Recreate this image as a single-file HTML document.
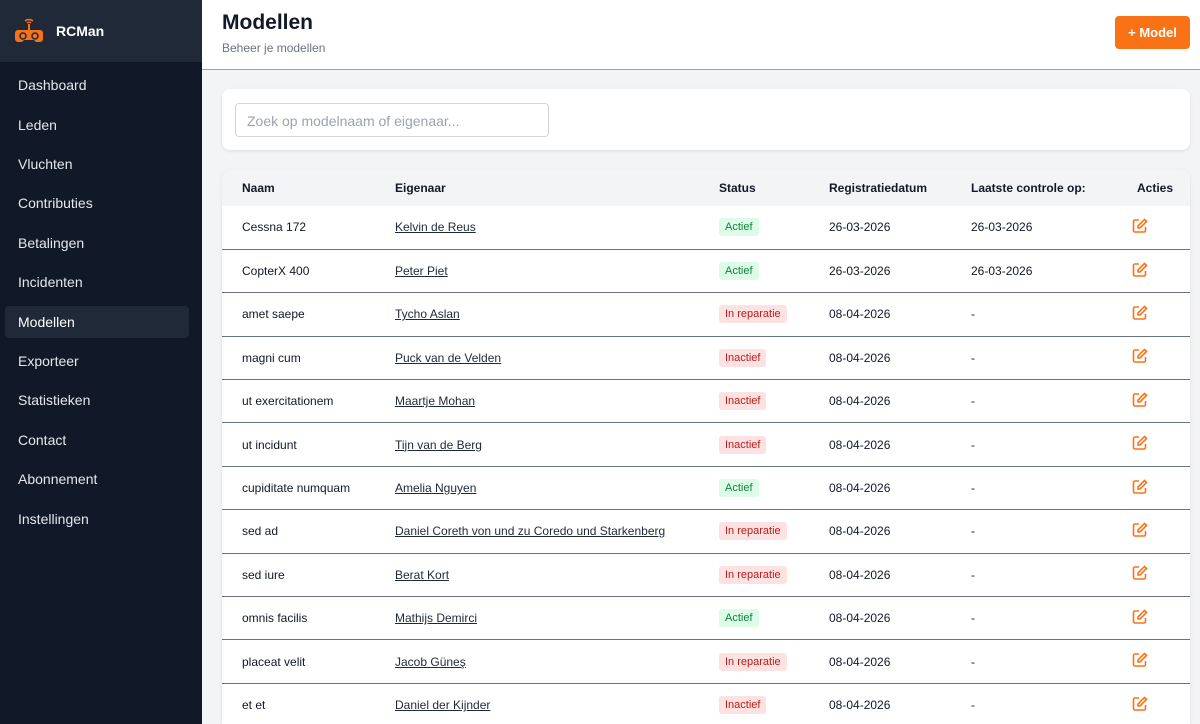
<!DOCTYPE html>
<html style="width:1200px;height:724px;overflow:hidden"><head><meta charset="utf-8"><style>
*{box-sizing:border-box;margin:0;padding:0}
body{width:1200px;height:724px;overflow:hidden;background:#f3f4f6;font-family:"Liberation Sans",Arial,sans-serif;position:relative}
.side{position:absolute;left:0;top:0;width:202px;height:724px;background:#111827}
.brand{height:62px;background:#1f2937;display:flex;align-items:center;padding-left:14px}
.brand b{color:#fff;font-size:14px;margin-left:12px}
.nav div{position:absolute;left:5px;width:184px;height:32px;line-height:32px;padding-left:13px;color:#e5e7eb;font-size:14px;border-radius:4px}
.nav .act{background:#1f2937;color:#fff}
.top{position:absolute;left:202px;top:0;right:0;height:70px;background:#fff;border-bottom:1px solid #9ca3af}
.top h1{position:absolute;left:20px;top:11px;font-size:21px;color:#111827}
.top p{position:absolute;left:20px;top:41px;font-size:12px;color:#6b7280}
.btn{position:absolute;right:10px;top:16px;width:75px;height:33px;background:#f97316;color:#fff;font-weight:bold;font-size:13px;border-radius:4px;text-align:center;line-height:33px}
.card{position:absolute;left:222px;width:968px;background:#fff;border-radius:8px;box-shadow:0 1px 3px rgba(0,0,0,.1)}
.search{position:absolute;left:13px;top:14px;width:314px;height:34px;border:1px solid #d1d5db;border-radius:4px;font-size:14px;color:#9ca3af;padding:9px 11px}
table{border-collapse:collapse;width:968px;table-layout:fixed;font-size:12px;color:#111827}
th{background:#f3f4f6;height:36px;text-align:left;font-weight:bold}
td{height:43.4px;border-top:1px solid #6b7280;white-space:nowrap}
td.f{border-top:none}
a{color:#1f2937;text-decoration:underline}
.b{display:inline-block;padding:3px 6px;border-radius:3px;font-size:11px}
.g{background:#dcfce7;color:#15803d}.r{background:#fee2e2;color:#b91c1c}
</style></head><body>
<div class="side">
<div class="brand"><svg width="30" height="30" viewBox="0 0 30 30"><path d="M11 5a6 6 0 0 1 8 0M13 7a3 3 0 0 1 4 0" stroke="#f97316" stroke-width="1.5" fill="none"/><line x1="15" y1="8" x2="15" y2="14" stroke="#f97316" stroke-width="2"/><path d="M4 14h22a3 3 0 0 1 3 3v6a3 3 0 0 1-3 3h-4l-2-2h-10l-2 2h-4a3 3 0 0 1-3-3v-6a3 3 0 0 1 3-3z" fill="#f97316"/><circle cx="9" cy="20" r="3" fill="none" stroke="#1f2937" stroke-width="1.5"/><circle cx="21" cy="20" r="3" fill="none" stroke="#1f2937" stroke-width="1.5"/></svg><b>RCMan</b></div>
<div class="nav">
<div style="top:69px">Dashboard</div><div style="top:109px">Leden</div><div style="top:148px">Vluchten</div><div style="top:187px">Contributies</div><div style="top:227px">Betalingen</div><div style="top:266px">Incidenten</div><div class="act" style="top:306px">Modellen</div><div style="top:345px">Exporteer</div><div style="top:384px">Statistieken</div><div style="top:424px">Contact</div><div style="top:463px">Abonnement</div><div style="top:503px">Instellingen</div>
</div></div>
<div class="top"><h1>Modellen</h1><p>Beheer je modellen</p><div class="btn">+ Model</div></div>
<div class="card" style="top:89px;height:61px"><div class="search">Zoek op modelnaam of eigenaar...</div></div>
<div class="card" style="top:170px;height:554px;overflow:hidden;border-radius:8px 8px 0 0">
<table id="t2"></table>
<script>
var d=[["Cessna 172","Kelvin de Reus","g","Actief","26-03-2026","26-03-2026"],["CopterX 400","Peter Piet","g","Actief","26-03-2026","26-03-2026"],["amet saepe","Tycho Aslan","r","In reparatie","08-04-2026","-"],["magni cum","Puck van de Velden","r","Inactief","08-04-2026","-"],["ut exercitationem","Maartje Mohan","r","Inactief","08-04-2026","-"],["ut incidunt","Tijn van de Berg","r","Inactief","08-04-2026","-"],["cupiditate numquam","Amelia Nguyen","g","Actief","08-04-2026","-"],["sed ad","Daniel Coreth von und zu Coredo und Starkenberg","r","In reparatie","08-04-2026","-"],["sed iure","Berat Kort","r","In reparatie","08-04-2026","-"],["omnis facilis","Mathijs Demirci","g","Actief","08-04-2026","-"],["placeat velit","Jacob Güneş","r","In reparatie","08-04-2026","-"],["et et","Daniel der Kijnder","r","Inactief","08-04-2026","-"]];
var ic='<svg width="16" height="16" viewBox="0 0 16 16" fill="none" stroke="#f97316" stroke-width="1.6"><path d="M7 2H3a1.5 1.5 0 0 0-1.5 1.5v9A1.5 1.5 0 0 0 3 14h9a1.5 1.5 0 0 0 1.5-1.5V9"/><path d="M12.5 1.5l2 2L8 10H6V8z"/></svg>';
var h='<colgroup><col style="width:173px"><col style="width:324px"><col style="width:110px"><col style="width:142px"><col style="width:150px"><col style="width:69px"></colgroup>';
h+='<tr><th style="padding-left:20px">Naam</th><th>Eigenaar</th><th>Status</th><th>Registratiedatum</th><th>Laatste controle op:</th><th style="padding-left:16px">Acties</th></tr>';
d.forEach(function(r,i){var f=i==0?' class="f"':'';h+='<tr><td'+f+' style="padding-left:20px">'+r[0]+'</td><td'+f+'><a>'+r[1]+'</a></td><td'+f+'><span class="b '+r[2]+'">'+r[3]+'</span></td><td'+f+'>'+r[4]+'</td><td'+f+'>'+r[5]+'</td><td'+f+' style="padding-left:11px">'+ic+'</td></tr>'});
document.getElementById('t2').innerHTML=h;
</script>
</div>
</body></html>
